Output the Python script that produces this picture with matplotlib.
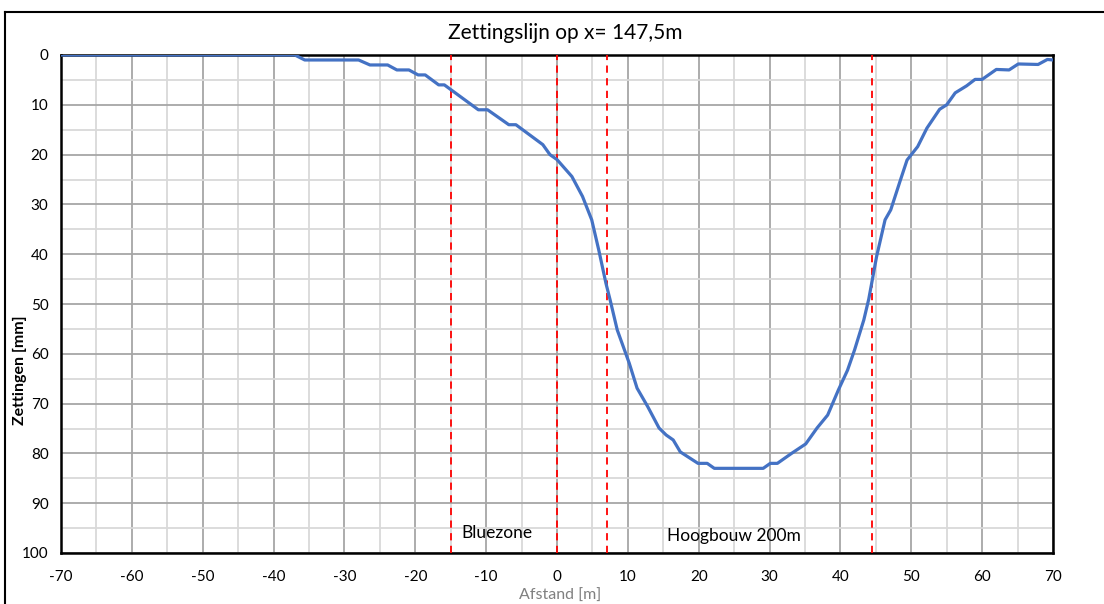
import matplotlib
matplotlib.use('Agg')
import matplotlib.pyplot as plt
from matplotlib.lines import Line2D
from matplotlib.ticker import MultipleLocator

# --- data ---
afstand = [-70, -37, -35.6, -28, -26.4, -23.9, -22.6, -20.9, -19.6, -18.6, -16.7, -15.9,
           -11.1, -9.8, -6.8, -5.8, -2, -1, 0, 2.1, 3.6, 4.9, 5.9, 6.9, 7.5, 8.5, 10.2,
           11.3, 12.8, 14.4, 15.4, 16.4, 17.4, 19.9, 21.2, 22.2, 29.1, 30.1, 31.1, 33.1,
           35.1, 36.7, 38.2, 39.7, 41, 42, 43.3, 44, 45.1, 46.3, 47.1, 48.4, 49.4, 50.9,
           52.2, 54, 55, 56.2, 57.8, 59, 60, 62, 63.8, 65.1, 67.9, 69.2, 70]
zetting = [0, 0, 1, 1, 2, 2, 3, 3, 4, 4, 6, 6,
           11, 11, 14, 14, 18, 20, 21, 24.4, 28.4, 33.1, 39.2, 45.8, 49.2, 55.2, 61.9,
           66.9, 70.6, 74.9, 76.3, 77.3, 79.7, 82, 82, 83, 83, 82, 82, 80,
           78.1, 74.9, 72.3, 67.3, 63.3, 59.2, 53.2, 49, 40.5, 33.1, 31.1, 25.4, 21.1, 18.4,
           14.7, 10.9, 10, 7.6, 6.2, 4.9, 4.9, 2.9, 3, 1.8, 1.9, 0.9, 1]

grenzen = [-15, 0, 7, 44.5]
zones = [('Bluezone', -13.5, 96), ('Hoogbouw 200m', 15.5, 96.5)]

plt.rcParams['font.family'] = ['Lato', 'DejaVu Sans']
plt.rcParams['axes.unicode_minus'] = False

fig = plt.figure(figsize=(11.04, 6.04), dpi=100)
ax = fig.add_axes([61 / 1104, 51 / 604, 992 / 1104, 498 / 604])

# kader van de grafiek: alleen boven- en linkerrand zichtbaar
x0, y0 = 5 / 1104, 1 - 12 / 604
fig.add_artist(Line2D([x0, 1.0], [y0, y0], transform=fig.transFigure,
                      color='black', linewidth=1.5))
fig.add_artist(Line2D([x0, x0], [0.0, y0], transform=fig.transFigure,
                      color='black', linewidth=1.5))

ax.plot(afstand, zetting, color='#4472C4', linewidth=2.3, zorder=4,
        solid_joinstyle='round')

for g in grenzen:
    ax.axvline(g, color='#FF0000', linestyle=(0, (4, 3)), linewidth=1.3, zorder=3)

for tekst, xt, yt in zones:
    ax.text(xt, yt, tekst, fontsize=12.5, va='center', ha='left', zorder=5)

ax.set_xlim(-70, 70)
ax.set_ylim(100, 0)
ax.xaxis.set_major_locator(MultipleLocator(10))
ax.xaxis.set_minor_locator(MultipleLocator(5))
ax.yaxis.set_major_locator(MultipleLocator(10))
ax.yaxis.set_minor_locator(MultipleLocator(5))
ax.grid(which='major', color='#A6A6A6', linewidth=1.3, zorder=1)
ax.grid(which='minor', color='#D9D9D9', linewidth=1.3, zorder=0)
ax.set_axisbelow(True)
ax.tick_params(which='both', length=0)
ax.tick_params(axis='x', pad=12, labelsize=11)
ax.tick_params(axis='y', pad=9, labelsize=11)
for s in ax.spines.values():
    s.set_color('black')
    s.set_linewidth(1.8)

fig.text(20 / 1104, 1 - 370 / 604, 'Zettingen [mm]', fontsize=11.5, fontweight='bold',
         rotation=90, ha='center', va='center')
fig.text(565 / 1104, 1 - 33 / 604, 'Zettingslijn op x= 147,5m', fontsize=15,
         ha='center', va='center')
fig.text(560 / 1104, 1 / 604, 'Afstand [m]', fontsize=11.5, color='#808080',
         ha='center', va='bottom')

fig.savefig('out.png', dpi=100)
